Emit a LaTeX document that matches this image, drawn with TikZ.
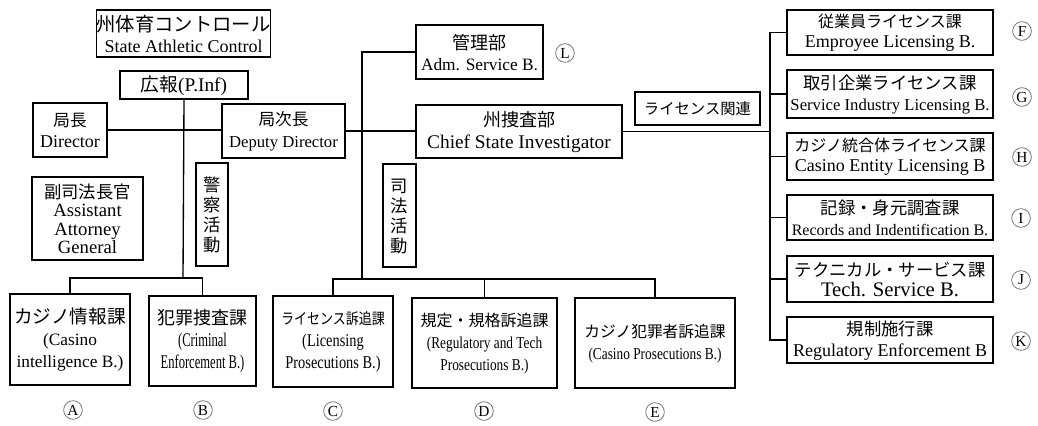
\documentclass[tikz,border=0pt]{standalone}
\usepackage{fontspec}
\setmainfont{Liberation Serif}
\newfontfamily\myjp{Noto Sans CJK JP}
\newfontfamily\myjpc[FakeStretch=0.85]{Noto Sans CJK JP}
\newfontfamily\mycond[FakeStretch=0.8]{Liberation Serif}
\newfontfamily\mycondd[FakeStretch=0.65]{Liberation Serif}
\newcommand{\cjs}{\rule[-0.12em]{0pt}{1em}}
\newcommand{\jpl}[2]{{\myjp\fontsize{#1}{16}\selectfont\cjs #2}}
\newcommand{\jpcl}[2]{{\myjpc\fontsize{#1}{16}\selectfont\cjs #2}}
\tikzset{
  bx/.style={draw, line width=1.1pt, inner sep=0pt, align=center, anchor=center},
  wh/.style 2 args={minimum width=#1*0.75pt, minimum height=#2*0.75pt},
  cl/.style={draw=black!55, line width=0.6pt, circle, inner sep=0pt, minimum size=14pt, font=\fontsize{11.5}{11.5}\selectfont},
  ln/.style={line width=1pt},
  vt/.style={bx, font=\myjp\fontsize{13}{15}\selectfont},
}
\begin{document}
\begin{tikzpicture}[x=0.75pt, y=-0.75pt]
\useasboundingbox (0,0) rectangle (1038,425);
% top left
\node[bx, wh={171}{47}, font=\fontsize{13.5}{16}\selectfont] (sac) at (183.5,33.5) {\jpl{14.5}{州体育コントロール}\\State Athletic Control};
\node[bx, wh={128}{28}, font=\fontsize{14.5}{16}\selectfont] (pinf) at (184,85) {\jpl{14}{広報}(P.Inf)};
\node[bx, wh={74}{54}, font=\fontsize{13.5}{16}\selectfont] (dir) at (70,130) {\jpl{12.5}{局長}\\Director};
\node[bx, wh={123}{54}, font=\fontsize{12.5}{16}\selectfont] (dep) at (283.5,131) {\jpl{12.5}{局次長}\\Deputy Director};
\node[bx, wh={111}{83}, font=\fontsize{14}{13.8}\selectfont] (aag) at (87.5,218.5) {\jpl{13}{副司法長官}\\Assistant\\Attorney\\General};
\node[vt, wh={32}{103}] (pol) at (212,214.5) {\cjs 警\\\cjs 察\\\cjs 活\\\cjs 動};
\node[vt, wh={33}{103}] (jud) at (399.5,215.5) {\cjs 司\\\cjs 法\\\cjs 活\\\cjs 動};
% middle
\node[bx, wh={127}{54}, font=\fontsize{13}{16}\selectfont] (adm) at (479.5,52) {\jpl{13.5}{管理部}\\Adm. Service B.};
\node[bx, wh={206}{53}, font=\fontsize{14.5}{17}\selectfont] (chief) at (519,131.5) {\jpl{13.5}{州捜査部}\\Chief State Investigator};
\node[bx, wh={125}{33}, font=\myjp\fontsize{11.5}{14}\selectfont] (lic) at (697.5,108.5) {\cjs ライセンス関連};
% bottom row
\node[bx, wh={120}{91}, font=\fontsize{13}{16.5}\selectfont] (cas) at (70,339.5) {\jpl{14}{カジノ情報課}\\(Casino\\intelligence B.)};
\node[bx, wh={107}{90}, font=\mycondd\fontsize{14.5}{16.5}\selectfont] (crim) at (202.5,341) {\jpl{13.5}{犯罪捜査課}\\(Criminal\\Enforcement B.)};
\node[bx, wh={120}{91}, font=\mycond\fontsize{13.5}{16.5}\selectfont] (licp) at (333,341.5) {\jpcl{11.5}{ライセンス訴追課}\\(Licensing\\Prosecutions B.)};
\node[bx, wh={145}{90}, font=\mycond\fontsize{12.5}{16.5}\selectfont] (regp) at (484.5,343) {\jpl{12}{規定・規格訴追課}\\(Regulatory and Tech\\Prosecutions B.)};
\node[bx, wh={160}{90}, font=\mycond\fontsize{12.5}{16.5}\selectfont] (casp) at (655,343) {\jpl{11.8}{カジノ犯罪者訴追課}\\(Casino Prosecutions B.)};
% right column
\node[bx, wh={206}{45}, font=\fontsize{13.5}{15.5}\selectfont] (bF) at (890,32.5) {\jpl{12}{従業員ライセンス課}\\Emproyee Licensing B.};
\node[bx, wh={206}{48}, font=\fontsize{12.5}{15.5}\selectfont] (bG) at (890,94) {\jpl{13}{取引企業ライセンス課}\\Service Industry Licensing B.};
\node[bx, wh={206}{47}, font=\fontsize{13.5}{15.5}\selectfont] (bH) at (890,156.5) {\jpl{12}{カジノ統合体ライセンス課}\\Casino Entity Licensing B};
\node[bx, wh={206}{45}, font=\fontsize{12}{15.5}\selectfont] (bI) at (890,217.5) {\jpl{13}{記録・身元調査課}\\Records and Indentification B.};
\node[bx, wh={206}{46}, font=\fontsize{15.5}{15.5}\selectfont] (bJ) at (890,279) {\jpl{13}{テクニカル・サービス課}\\Tech. Service B.};
\node[bx, wh={206}{46}, font=\fontsize{13.5}{15.5}\selectfont] (bK) at (890,340) {\jpl{13}{規制施行課}\\Regulatory Enforcement B};
% circled letters
\node[cl] (cA) at (73,410) {A};
\node[cl] (cB) at (203,410) {B};
\node[cl] (cC) at (333,411) {C};
\node[cl] (cD) at (484,411) {D};
\node[cl] (cE) at (655,412) {E};
\node[cl] (cL) at (565,53) {L};
\node[cl] (cF) at (1022,31) {F};
\node[cl] (cG) at (1022,97) {G};
\node[cl] (cH) at (1022,157) {H};
\node[cl] (cI) at (1021,218) {I};
\node[cl] (cJ) at (1021,280) {J};
\node[cl] (cK) at (1021,341) {K};
% connectors
\coordinate (jAB) at (183,278);
\coordinate (jMid) at (362,279);
\coordinate (jR) at (770,131);
\draw[ln] (dir.east) -- (dir.east -| dep.west);
\draw[ln] (pinf.south) -- (jAB);
\draw[ln] (cas.north) |- (jAB) -| (crim.north);
\draw[ln] (dep.east) -- (dep.east -| chief.west);
\draw[ln] (adm.west) -| (jMid);
\draw[ln] (licp.north) |- (jMid) -| (casp.north);
\draw[ln] (regp.north) -- (regp.north |- jMid);
\draw[ln] (chief.east) -- (chief.east -| jR);
\draw[ln] (bF.west) -| (jR);
\draw[ln] (bK.west) -| (jR);
\draw[ln] (bG.west) -- (bG.west -| jR);
\draw[ln] (bH.west) -- (bH.west -| jR);
\draw[ln] (bI.west) -- (bI.west -| jR);
\draw[ln] (bJ.west) -- (bJ.west -| jR);
\end{tikzpicture}
\end{document}
